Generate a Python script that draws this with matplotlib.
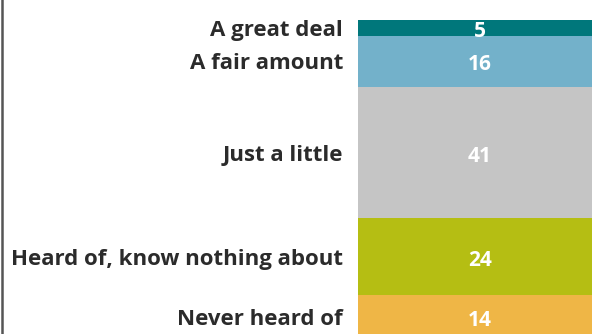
import matplotlib
matplotlib.use("Agg")
import matplotlib.pyplot as plt

categories = ["A great deal", "A fair amount", "Just a little",
              "Heard of, know nothing about", "Never heard of"]
values = [5, 16, 41, 24, 14]
colors = ["#00777b", "#73b1ca", "#c5c5c5", "#b5be13", "#efb646"]

W, H = 592, 334
fig = plt.figure(figsize=(W / 100, H / 100), dpi=100)
ax = fig.add_axes([0, 0, 1, 1])

px_per_unit = 3.2
top_px = 20
ax.set_ylim((H - top_px) / px_per_unit, -top_px / px_per_unit)
ax.set_xlim(0, W)
ax.axis("off")

bar_left = 358
bar_width = 260
start = 0
for cat, v, c in zip(categories, values, colors):
    ax.barh(start + v / 2, bar_width, height=v, left=bar_left, color=c, edgecolor="none")
    mid = start + v / 2
    ax.text(480, mid + 1.0, str(v), ha="center", va="center", color="white",
            fontsize=15, fontweight="bold", family="Open Sans")
    ax.text(343, mid + 0.7, cat, ha="right", va="center", color="#2b2b2b",
            fontsize=16, fontweight="bold", family="Open Sans")
    start += v

# left border line
ax.plot([2, 2], [ax.get_ylim()[0], ax.get_ylim()[1]], color="#555555", lw=1.8)

fig.savefig("out.png", dpi=100)
